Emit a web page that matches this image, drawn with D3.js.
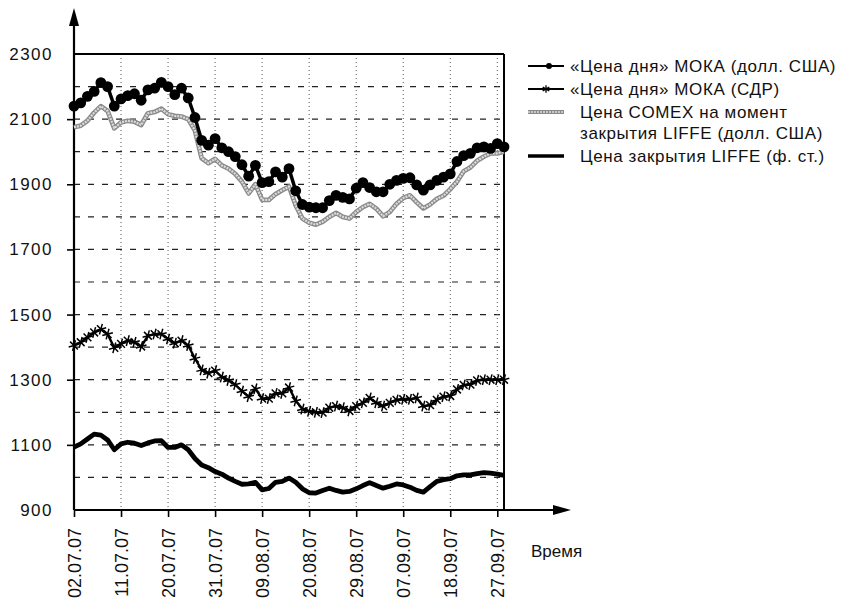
<!DOCTYPE html>
<html><head><meta charset="utf-8">
<script src="https://cdn.jsdelivr.net/npm/d3@7"></script>
<style>
body{margin:0;background:#fff;}
text{font-family:"Liberation Sans",Arial,Helvetica,sans-serif;fill:#111;}
</style></head>
<body><svg id="c" width="853" height="598"></svg>
<script>
// trading-day index of each labelled date
const dateLabels = ["02.07.07","11.07.07","20.07.07","31.07.07","09.08.07","20.08.07","29.08.07","07.09.07","18.09.07","27.09.07"];
const dateIndex = [0,7,14,21,28,35,42,49,56,63];
const yTicks = [2300,2100,1900,1700,1500,1300,1100,900];
const yGrid = [2200,2100,2000,1900,1800,1700,1600,1500,1400,1300,1200,1100,1000];

const mokaUsd = [2140,2150,2170,2185,2212,2200,2140,2162,2172,2178,2158,2190,2195,2213,2200,2175,2195,2165,2105,2035,2020,2040,2012,2000,1985,1960,1925,1958,1905,1908,1938,1922,1948,1880,1838,1830,1828,1828,1850,1866,1860,1855,1888,1905,1890,1877,1877,1900,1912,1918,1920,1898,1882,1898,1912,1922,1932,1970,1988,1995,2012,2015,2010,2025,2015];
const mokaSdr = [1405,1415,1430,1445,1455,1440,1398,1410,1420,1415,1402,1435,1440,1440,1425,1412,1420,1405,1365,1330,1320,1328,1308,1298,1285,1265,1248,1272,1242,1242,1258,1258,1276,1235,1210,1203,1200,1199,1214,1219,1214,1204,1219,1229,1244,1229,1219,1229,1238,1240,1240,1244,1219,1222,1238,1248,1250,1270,1284,1285,1298,1300,1300,1300,1300];
const comexUsd = [2075,2080,2095,2120,2140,2125,2072,2090,2095,2092,2082,2118,2122,2132,2115,2110,2108,2100,2065,1980,1965,1978,1958,1948,1932,1908,1872,1900,1852,1852,1870,1882,1893,1835,1795,1782,1776,1785,1800,1812,1800,1795,1815,1830,1840,1825,1802,1815,1840,1858,1866,1845,1826,1838,1855,1865,1885,1908,1940,1952,1972,1985,1995,1995,2000];
const liffeGbp = [1093,1103,1118,1133,1130,1115,1085,1103,1108,1105,1098,1106,1112,1113,1092,1092,1100,1085,1058,1038,1030,1018,1010,998,988,979,980,985,962,966,985,988,998,985,965,953,952,960,967,960,955,957,965,975,984,975,967,973,980,977,970,960,955,972,988,993,996,1005,1008,1008,1012,1015,1013,1010,1006];

const legendLabels = [["«Цена дня» МОКА (долл. США)"],["«Цена дня» МОКА (СДР)"],["Цена COMEX на момент","закрытия LIFFE (долл. США)"],["Цена закрытия LIFFE (ф. ст.)"]];

const svg = d3.select("#c");
const L=74, R=504, T=54, B=510;
const x = d3.scaleLinear().domain([0,64]).range([L,R]);
const y = d3.scaleLinear().domain([900,2300]).range([B,T]);

// grid
svg.append("g").selectAll("line").data(yGrid).join("line")
  .attr("x1",L).attr("x2",R).attr("y1",d=>y(d)).attr("y2",d=>y(d))
  .attr("stroke","#222").attr("stroke-width",1.2).attr("stroke-dasharray","6,8");
svg.append("g").selectAll("line").data(dateIndex.slice(1)).join("line")
  .attr("x1",d=>x(d)).attr("x2",d=>x(d)).attr("y1",T).attr("y2",B)
  .attr("stroke","#555").attr("stroke-width",1).attr("stroke-dasharray","1,3");

// frame
svg.append("line").attr("x1",L).attr("x2",R).attr("y1",T).attr("y2",T).attr("stroke","#000").attr("stroke-width",2);
svg.append("line").attr("x1",R).attr("x2",R).attr("y1",T).attr("y2",B).attr("stroke","#000").attr("stroke-width",2);

// axes
const yAxis = d3.axisLeft(y).tickValues(yTicks).tickSize(7).tickPadding(14).tickFormat(d3.format("d"));
const gy = svg.append("g").attr("transform",`translate(${L},0)`).call(yAxis);
gy.select(".domain").remove();
gy.selectAll(".tick line").attr("stroke","#000").attr("stroke-width",1.6);
gy.selectAll(".tick text").attr("font-size",17).attr("letter-spacing","1.5px").attr("fill","#111")
  .style("font-family","'Liberation Sans',Arial,sans-serif");
gy.selectAll(".tick").filter(d=>d===2300||d===900).select("line").remove();

const xAxis = d3.axisBottom(x).tickValues(dateIndex).tickSize(7).tickFormat((d,i)=>dateLabels[i]);
const gx = svg.append("g").attr("transform",`translate(0,${B})`).call(xAxis);
gx.select(".domain").remove();
gx.selectAll(".tick line").attr("stroke","#000").attr("stroke-width",1.6);
gx.selectAll(".tick text").attr("font-size",18).attr("fill","#111")
  .style("font-family","'Liberation Sans',Arial,sans-serif")
  .attr("text-anchor","end").attr("transform","rotate(-90)")
  .attr("x",-18).attr("y",0).attr("dy","0.36em");

// axis lines with arrows
svg.append("line").attr("x1",L).attr("x2",L).attr("y1",B).attr("y2",22).attr("stroke","#000").attr("stroke-width",2.2);
svg.append("path").attr("d",`M${L},8 L${L-5},26 L${L+5},26 Z`).attr("fill","#000");
svg.append("line").attr("x1",L).attr("x2",556).attr("y1",B).attr("y2",B).attr("stroke","#000").attr("stroke-width",2.2);
svg.append("path").attr("d",`M571,${B} L553,${B-5} L553,${B+5} Z`).attr("fill","#000");
svg.append("text").attr("x",531).attr("y",557).attr("font-size",17).text("Время");

// series
const line = d3.line().x((d,i)=>x(i)).y(d=>y(d)).curve(d3.curveLinear);

// LIFFE thick
svg.append("path").datum(liffeGbp).attr("d",line).attr("fill","none")
  .attr("stroke","#000").attr("stroke-width",4.8).attr("stroke-linejoin","round");

// COMEX gray
svg.append("path").datum(comexUsd).attr("d",line).attr("fill","none")
  .attr("stroke","#8a8a8a").attr("stroke-width",4.8).attr("stroke-linejoin","round");
svg.append("path").datum(comexUsd).attr("d",line).attr("fill","none")
  .attr("stroke","#dcdcdc").attr("stroke-width",2.2).attr("stroke-dasharray","2,1").attr("stroke-linejoin","round");

// SDR with stars
svg.append("path").datum(mokaSdr).attr("d",line).attr("fill","none")
  .attr("stroke","#000").attr("stroke-width",2.4);
const star = d3.symbol().type(d3.symbolAsterisk).size(85);
svg.append("g").selectAll("path").data(mokaSdr).join("path")
  .attr("transform",(d,i)=>`translate(${x(i)},${y(d)}) rotate(15)`)
  .attr("d",star).attr("fill","none").attr("stroke","#000").attr("stroke-width",1.5);

// MOKA USD with dots
svg.append("path").datum(mokaUsd).attr("d",line).attr("fill","none")
  .attr("stroke","#000").attr("stroke-width",3.5);
svg.append("g").selectAll("circle").data(mokaUsd).join("circle")
  .attr("cx",(d,i)=>x(i)).attr("cy",d=>y(d)).attr("r",5.4).attr("fill","#000");

// legend
const lg = svg.append("g");
const rowsY = [66,89,112,156];
const symX1=528, symX2=564;
// row 1
lg.append("line").attr("x1",symX1).attr("x2",symX2).attr("y1",rowsY[0]).attr("y2",rowsY[0]).attr("stroke","#000").attr("stroke-width",2);
lg.append("circle").attr("cx",(symX1+symX2)/2+3).attr("cy",rowsY[0]).attr("r",3).attr("fill","#000");
// row 2
lg.append("line").attr("x1",symX1).attr("x2",symX2).attr("y1",rowsY[1]).attr("y2",rowsY[1]).attr("stroke","#000").attr("stroke-width",2);
lg.append("path").attr("transform",`translate(${(symX1+symX2)/2},${rowsY[1]})`).attr("d",d3.symbol().type(d3.symbolAsterisk).size(40)).attr("fill","none").attr("stroke","#000").attr("stroke-width",1.3);
// row 3
lg.append("line").attr("x1",symX1).attr("x2",symX2).attr("y1",rowsY[2]).attr("y2",rowsY[2]).attr("stroke","#8a8a8a").attr("stroke-width",4);
lg.append("line").attr("x1",symX1).attr("x2",symX2).attr("y1",rowsY[2]).attr("y2",rowsY[2]).attr("stroke","#dcdcdc").attr("stroke-width",1.6).attr("stroke-dasharray","2,1");
// row 4
lg.append("line").attr("x1",symX1).attr("x2",symX2).attr("y1",rowsY[3]).attr("y2",rowsY[3]).attr("stroke","#000").attr("stroke-width",3.5);

const textX = [570,570,580,580];
legendLabels.forEach((lines,k)=>{
  lines.forEach((t,j)=>{
    lg.append("text").attr("x",textX[k]).attr("y",rowsY[k]+j*21).attr("dy","0.36em")
      .attr("font-size",17).attr("letter-spacing","0.6px").text(t);
  });
});
</script></body></html>
